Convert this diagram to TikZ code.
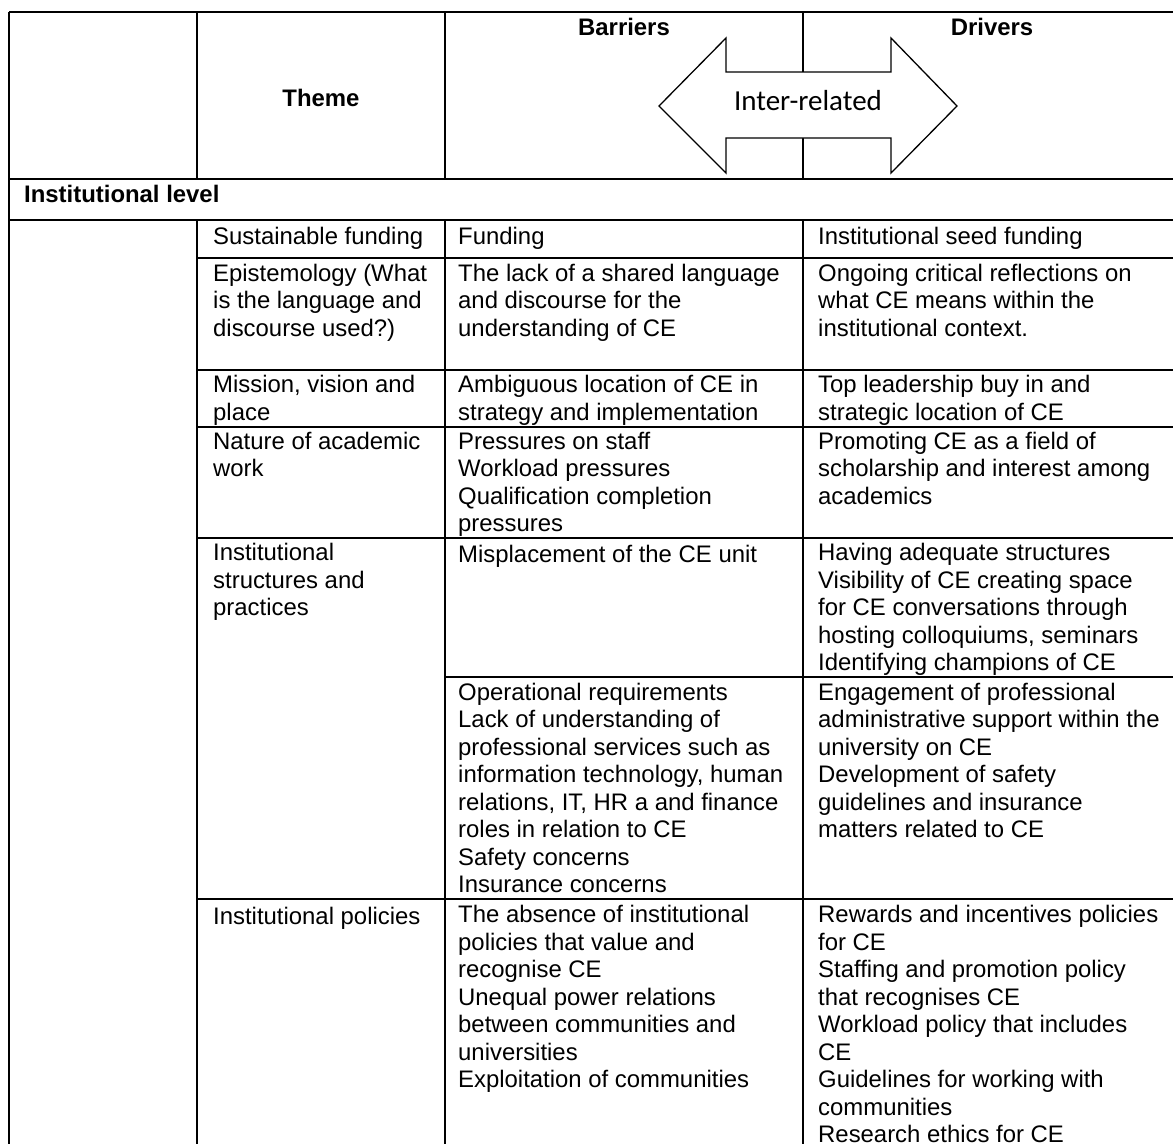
\documentclass[tikz,border=0pt]{standalone}
\usepackage{fontspec}
\setmainfont{Liberation Sans}
\newfontfamily\arrowfont{Carlito}
\newcommand\cellfont{\fontsize{23.9}{27.5}\selectfont}

\begin{document}
\begin{tikzpicture}[x=1pt,y=-1pt]
	\tikzstyle{rule}=[line width=2pt];
	\tikzstyle{cell}=[anchor=north west,inner sep=0pt,align=left,font=\cellfont,execute at begin node=\strut];
	\tikzstyle{head}=[anchor=base,inner sep=0pt,font=\cellfont\bfseries];
	\useasboundingbox (0,0) rectangle (1173,1144);
	\fill[white] (0,0) rectangle (1173,1144);
	% grid of the table
	\draw[rule] (9,12) -- (1173,12)
	(9,179) -- (1173,179)
	(9,220) -- (1173,220)
	(9,12) -- (9,1144)
	(197,12) -- (197,179)
	(197,220) -- (197,1144)
	(445,12) -- (445,179)
	(445,220) -- (445,1144)
	(803,12) -- (803,179)
	(803,220) -- (803,1144)
	(445,677) -- (1173,677);
	\foreach \y in {258,370,427,538,899}
		\draw[rule] (197,\y) -- (1173,\y);
	% two-headed arrow
	\draw[line width=1.3pt,fill=white,line join=miter] (659,106) -- (726,38) -- (726,72) -- (891,72) -- (891,38)
	-- (957,106) -- (891,173) -- (891,138) -- (726,138) -- (726,173) -- cycle;
	\path (808,110) node[anchor=base,inner sep=0pt,font=\fontsize{29}{33}\arrowfont] (rel) {Inter-related};
	% header
	\path (321,106) node[head] (theme) {Theme};
	\path (624,35)  node[head] (barriers) {Barriers};
	\path (992,35)  node[head] (drivers) {Drivers};
	\path (24,202)  node[head,anchor=base west] (level) {Institutional level};
	% theme column
	\path (213,225.5) node[cell] (t1) {Sustainable funding};
	\path (213,263.5) node[cell] (t2) {Epistemology (What\\is the language and\\discourse used?)};
	\path (213,375)   node[cell] (t3) {Mission, vision and\\place};
	\path (213,431.5) node[cell] (t4) {Nature of academic\\work};
	\path (213,543)   node[cell] (t5) {Institutional\\structures and\\practices};
	\path (213,905)   node[cell] (t6) {Institutional policies};
	% barriers column
	\path (458,225.5) node[cell] (b1) {Funding};
	\path (458,263.5) node[cell] (b2) {The lack of a shared language\\and discourse for the\\understanding of CE};
	\path (458,375)   node[cell] (b3) {Ambiguous location of CE in\\strategy and implementation};
	\path (458,431.5) node[cell] (b4) {Pressures on staff\\Workload pressures\\Qualification completion\\pressures};
	\path (458,543)   node[cell] (b5) {Misplacement of the CE unit};
	\path (458,682.5) node[cell] (b6) {Operational requirements\\Lack of understanding of\\professional services such as\\information technology, human\\relations, IT, HR a and finance\\roles in relation to CE\\Safety concerns\\Insurance concerns};
	\path (458,905)   node[cell] (b7) {The absence of institutional\\policies that value and\\recognise CE\\Unequal power relations\\between communities and\\universities\\Exploitation of communities};
	% drivers column
	\path (818,225.5) node[cell] (d1) {Institutional seed funding};
	\path (818,263.5) node[cell] (d2) {Ongoing critical reflections on\\what CE means within the\\institutional context.};
	\path (818,375)   node[cell] (d3) {Top leadership buy in and\\strategic location of CE};
	\path (818,431.5) node[cell] (d4) {Promoting CE as a field of\\scholarship and interest among\\academics};
	\path (818,543)   node[cell] (d5) {Having adequate structures\\Visibility of CE creating space\\for CE conversations through\\hosting colloquiums, seminars\\Identifying champions of CE};
	\path (818,682.5) node[cell] (d6) {Engagement of professional\\administrative support within the\\university on CE\\Development of safety\\guidelines and insurance\\matters related to CE};
	\path (818,905)   node[cell] (d7) {Rewards and incentives policies\\for CE\\Staffing and promotion policy\\that recognises CE\\Workload policy that includes\\CE\\Guidelines for working with\\communities\\Research ethics for CE};
\end{tikzpicture}
\end{document}
